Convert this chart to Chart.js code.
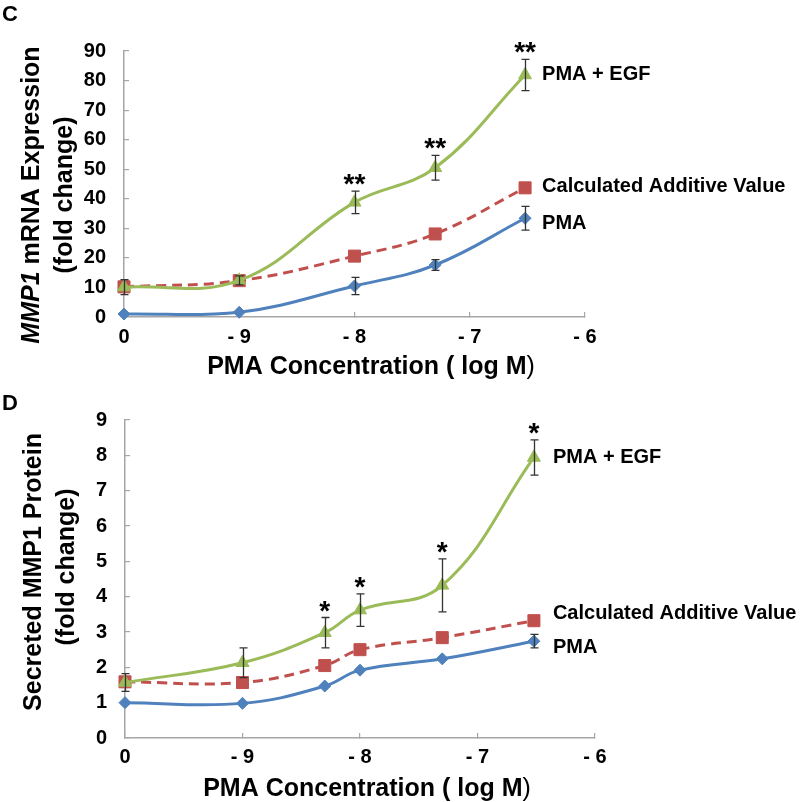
<!DOCTYPE html>
<html>
<head>
<meta charset="utf-8">
<script src="https://cdn.jsdelivr.net/npm/chart.js@4.4.1/dist/chart.umd.min.js"></script>
<style>
  html, body { margin: 0; padding: 0; background: #fff; }
  #wrap { position: relative; width: 800px; height: 802px; overflow: hidden; }
  canvas { position: absolute; left: 0; }
  #chartC { top: 0; }
  #chartD { top: 385px; }
</style>
</head>
<body>
<div id="wrap">
  <canvas id="chartC" width="800" height="385"></canvas>
  <canvas id="chartD" width="800" height="417"></canvas>
</div>
<script>
// x tick labels (log M, -10 position is the untreated "0")
const tickLabels = ['0', '- 9', '- 8', '- 7', '- 6'];

// panel C - MMP1 mRNA
const concC = [-10, -9, -8, -7.3, -6.52];
const pmaC = [1.0, 1.6, 10.5, 17.6, 33.4];
const pmaErrC = [null, null, 2.9, 1.8, 4.0];
const addC = [10.2, 12.3, 20.6, 28.1, 43.7];
const egfC = [10.1, 12.4, 38.8, 50.5, 81.9];
const egfErrC = [2.5, 1.5, 3.8, 4.2, 5.3];
const starsC = [null, null, '**', '**', '**'];

// panel D - secreted MMP1 protein
const concD = [-10, -9, -8.3, -8, -7.3, -6.52];
const pmaD = [1.0, 0.98, 1.47, 1.92, 2.24, 2.74];
const pmaErrD = [null, null, null, null, null, 0.19];
const addD = [1.59, 1.57, 2.05, 2.5, 2.84, 3.32];
const egfD = [1.57, 2.13, 2.98, 3.62, 4.32, 7.94];
const egfErrD = [0.25, 0.42, 0.43, 0.46, 0.75, 0.5];
const starsD = [null, null, '*', '*', '*', '*'];

const FONT = '"Liberation Sans", Arial, sans-serif';
Chart.defaults.font.family = FONT;
Chart.defaults.color = '#000';

const BLUE = '#4F81BD', RED = '#C0504D', GREEN = '#9BBB59';

function pts(xs, ys) {
  return xs.map((x, i) => ({ x: x, y: ys[i] }));
}

// error bars, stars, end labels, titles
const decor = {
  id: 'decor',
  afterDatasetsDraw(chart) {
    const ctx = chart.ctx, xs = chart.scales.x, ys = chart.scales.y;
    ctx.save();
    ctx.strokeStyle = '#333';
    ctx.lineWidth = 1.3;
    chart.data.datasets.forEach(ds => {
      if (!ds.err) return;
      ds.data.forEach((p, j) => {
        const e = ds.err[j];
        if (e == null) return;
        const px = Math.round(xs.getPixelForValue(p.x)) + 0.5;
        const t = ys.getPixelForValue(p.y + e);
        const b = ys.getPixelForValue(p.y - e);
        ctx.beginPath();
        ctx.moveTo(px, t); ctx.lineTo(px, b);
        ctx.moveTo(px - 4, t); ctx.lineTo(px + 4, t);
        ctx.moveTo(px - 4, b); ctx.lineTo(px + 4, b);
        ctx.stroke();
      });
    });
    ctx.restore();
  },
  afterDraw(chart, args, o) {
    const ctx = chart.ctx, xs = chart.scales.x, ys = chart.scales.y;
    const ds = chart.data.datasets;
    ctx.save();
    ctx.fillStyle = '#000';

    // significance stars over PMA + EGF
    ctx.font = 'bold 28px ' + FONT;
    ctx.textAlign = 'center';
    ctx.textBaseline = 'alphabetic';
    const g = ds[0];
    g.stars.forEach((s, j) => {
      if (!s) return;
      const p = g.data[j];
      const top = ys.getPixelForValue(p.y + (g.err[j] || 0));
      ctx.fillText(s, xs.getPixelForValue(p.x), top + 2);
    });

    // series names next to last point
    ctx.font = 'bold 20px ' + FONT;
    ctx.textAlign = 'left';
    o.names.forEach(n => {
      const d = ds[n.ds];
      const p = d.data[d.data.length - 1];
      ctx.fillText(n.text, xs.getPixelForValue(p.x) + o.nameDx, ys.getPixelForValue(p.y) + n.dy + 7);
    });

    // panel letter
    ctx.font = 'bold 22px ' + FONT;
    ctx.fillText(o.letter, 2, o.letterY + 8);

    // x title, closing bracket lighter
    const bold = 'bold 25px ' + FONT, thin = '25px ' + FONT;
    const t1 = 'PMA Concentration ( log M', t2 = ')';
    ctx.font = bold; const w1 = ctx.measureText(t1).width;
    ctx.font = thin; const w2 = ctx.measureText(t2).width;
    let x0 = o.xTitle[0] - (w1 + w2) / 2;
    ctx.font = bold; ctx.fillText(t1, x0, o.xTitle[1] + 9);
    ctx.font = thin; ctx.fillText(t2, x0 + w1, o.xTitle[1] + 9);

    // y title, rotated, two lines
    o.yTitle.forEach(line => {
      ctx.save();
      ctx.translate(line.x, line.y);
      ctx.rotate(-Math.PI / 2);
      let total = 0;
      line.parts.forEach(pt => { ctx.font = pt.font + ' 25px ' + FONT; total += ctx.measureText(pt.t).width; });
      let cx = -total / 2;
      line.parts.forEach(pt => {
        ctx.font = pt.font + ' 25px ' + FONT;
        ctx.fillText(pt.t, cx, 9);
        cx += ctx.measureText(pt.t).width;
      });
      ctx.restore();
    });
    ctx.restore();
  }
};

function makeChart(id, cfg) {
  const axisColor = '#A6A6A6';
  return new Chart(document.getElementById(id), {
    type: 'line',
    data: {
      datasets: [
        {
          label: 'PMA + EGF', data: pts(cfg.conc, cfg.egf), err: cfg.egfErr, stars: cfg.stars,
          borderColor: GREEN, backgroundColor: GREEN, borderWidth: 3, tension: 0.4,
          pointStyle: 'triangle', pointRadius: 7.5, pointBorderWidth: 1, clip: false
        },
        {
          label: 'Calculated Additive Value', data: pts(cfg.conc, cfg.add),
          borderColor: RED, backgroundColor: RED, borderWidth: 3, borderDash: [10, 6], tension: 0.4,
          pointStyle: 'rect', pointRadius: 8.5, pointBorderWidth: 1, clip: false
        },
        {
          label: 'PMA', data: pts(cfg.conc, cfg.pma), err: cfg.pmaErr,
          borderColor: BLUE, backgroundColor: BLUE, borderWidth: 3, tension: 0.4,
          pointStyle: 'rectRot', pointRadius: 6, pointBorderWidth: 1, clip: false
        }
      ]
    },
    options: {
      responsive: false,
      animation: false,
      devicePixelRatio: 1,
      layout: { padding: { left: 0, top: cfg.top, right: cfg.right, bottom: 0 } },
      plugins: {
        legend: { display: false },
        tooltip: { enabled: false },
        decor: cfg.decor
      },
      scales: {
        x: {
          type: 'linear', min: -10, max: -6,
          afterFit: s => { s.height = cfg.xHeight; },
          ticks: {
            stepSize: 1, padding: cfg.xPad,
            font: { size: 20, weight: 'bold' },
            callback: v => tickLabels[Math.round(v + 10)]
          },
          grid: { drawOnChartArea: false, tickLength: -5, color: axisColor, lineWidth: 1.2 },
          border: { color: axisColor, width: 1.5 }
        },
        y: {
          type: 'linear', min: 0, max: cfg.yMax,
          afterFit: s => { s.width = cfg.yWidth; },
          ticks: { stepSize: cfg.yStep, padding: 23, font: { size: 20, weight: 'bold' } },
          grid: { drawOnChartArea: false, tickLength: -5, color: axisColor, lineWidth: 1.2 },
          border: { color: axisColor, width: 1.5 }
        }
      }
    },
    plugins: [decor]
  });
}

makeChart('chartC', {
  conc: concC, pma: pmaC, pmaErr: pmaErrC, add: addC, egf: egfC, egfErr: egfErrC, stars: starsC,
  yMax: 90, yStep: 10, top: 51, right: 215, yWidth: 124, xHeight: 68, xPad: 13,
  decor: {
    letter: 'C', letterY: 13, nameDx: 17,
    names: [
      { ds: 0, text: 'PMA + EGF', dy: -2 },
      { ds: 1, text: 'Calculated Additive Value', dy: -3 },
      { ds: 2, text: 'PMA', dy: 4 }
    ],
    xTitle: [371, 365],
    yTitle: [
      { x: 30, y: 195, parts: [{ t: 'MMP1', font: 'italic bold' }, { t: ' mRNA Expression', font: 'bold' }] },
      { x: 63, y: 195, parts: [{ t: '(fold change)', font: 'bold' }] }
    ]
  }
});

makeChart('chartD', {
  conc: concD, pma: pmaD, pmaErr: pmaErrD, add: addD, egf: egfD, egfErr: egfErrD, stars: starsD,
  yMax: 9, yStep: 1, top: 24, right: 205, yWidth: 125, xHeight: 64, xPad: 12,
  decor: {
    letter: 'D', letterY: 17, nameDx: 19,
    names: [
      { ds: 0, text: 'PMA + EGF', dy: -1 },
      { ds: 1, text: 'Calculated Additive Value', dy: -9 },
      { ds: 2, text: 'PMA', dy: 5 }
    ],
    xTitle: [367, 402],
    yTitle: [
      { x: 32, y: 187, parts: [{ t: 'Secreted MMP1 Protein', font: 'bold' }] },
      { x: 65, y: 182, parts: [{ t: '(fold change)', font: 'bold' }] }
    ]
  }
});
</script>
</body>
</html>
